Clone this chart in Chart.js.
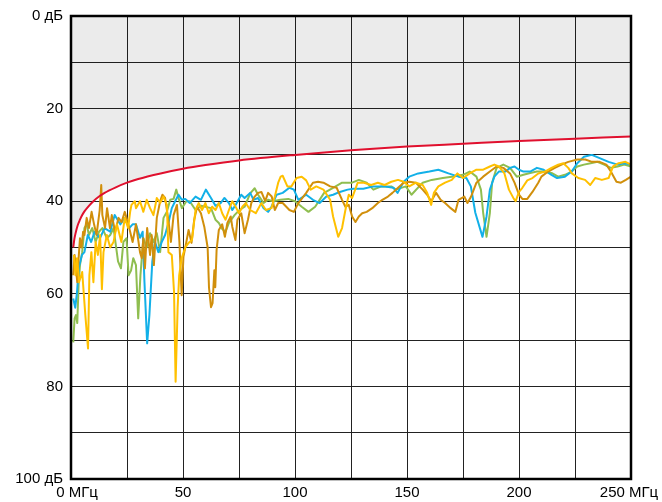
<!DOCTYPE html>
<html><head><meta charset="utf-8">
<script src="https://cdn.jsdelivr.net/npm/chart.js@4.4.1/dist/chart.umd.min.js"></script>
<style>html,body{margin:0;padding:0;background:#fff}#wrap{width:662px;height:502px}</style>
</head><body><div id="wrap"><canvas id="c" width="662" height="502"></canvas></div>
<script>
// Axis ticks
const xTicks = [0, 50, 100, 150, 200, 250];
const xTickLabels = ['0 МГц', '50', '100', '150', '200', '250 МГц'];
const yTicks = [0, 20, 40, 60, 80, 100];
const yTickLabels = ['0 дБ', '20', '40', '60', '80', '100 дБ'];

// Limit line [MHz, dB]
const limitLine = [[1,50],[1.5,48.2],[2,47],[3,45.2],[4,44],[5,43],[6,42.2],[8,41],[10,40],[12.5,39],[15,38.2],[20,37],[25,36],[30,35.2],[40,34],[50,33],[60,32.2],[75,31.2],[100,30],[125,29],[150,28.2],[175,27.6],[200,27],[225,26.5],[250,26]];
const limitFillStart = [[0,50]];

// Measured series [MHz, dB]
const cyanSeries = [[1,61],[1.9,63],[2.7,59.6],[3.4,54.5],[4.9,51.6],[6,51],[7.5,47.3],[9,48.8],[10.5,46.6],[12.9,48],[15,45.8],[17.5,46.6],[19.5,43],[22,45],[24,43.6],[26,45.8],[27.5,45],[29,45],[30.8,47.9],[32,46.6],[32.8,57.5],[34,70.7],[35,64.6],[36.3,53],[37.5,48.8],[39,51],[40.5,48.8],[42,47.3],[43.6,44.5],[45,41.5],[46.5,40],[48,38.6],[49.5,39.7],[51,39.5],[53,40.4],[55.6,39],[58,39.7],[60.2,37.5],[62.5,39.3],[64.5,41],[66.8,40.4],[68.5,39.3],[70.5,40.4],[72,41.9],[73.5,40.8],[76,38.6],[77.5,39.3],[80,38.2],[81.5,39.7],[83.5,39.3],[86,41.5],[88,42.3],[89.5,41.2],[91.8,38.6],[94.5,38.2],[97.5,37.1],[99.5,37.5],[101.5,39.7],[105,38.6],[108,39.7],[111,40.4],[114,39],[117,38.6],[120,38],[123.5,37.5],[126,37.3],[130.5,37.3],[135,36.8],[139.5,36.8],[144,37.1],[145.8,38.2],[148.5,35.8],[151,34.7],[155,34],[160,33.6],[164,33.2],[168.5,34],[173,34.7],[176.5,35],[178.5,36.8],[180.5,42.5],[183.7,47.7],[185.5,43.3],[187,37.5],[189,34.7],[191,33.6],[194,33.6],[196,32.8],[198,32.5],[200,33.2],[202,33.6],[205,33.6],[208,32.8],[211,33.2],[214.5,34.3],[217,35],[220.5,34.7],[223.5,33.6],[226,31.8],[229,30.4],[232.5,30],[236,30.7],[240,31.5],[244,32.1],[247,31.8],[250,32.1]];

const greenSeries = [[1,70.5],[1.6,65.3],[2.2,64.6],[2.8,66.3],[3.4,58],[4,53.8],[5,51],[6,45.8],[7,45],[8,47.3],[9.5,45.8],[11,48.8],[12.5,46.6],[14,45.8],[16,48],[17.5,47.3],[19,45.8],[21,53],[22.3,54.5],[23.4,48.8],[24.8,48],[25.7,56],[26.8,55],[27.8,52.3],[29,53.8],[30,65.3],[31,56],[32.3,48],[33.8,50],[35.3,46.9],[36.8,48.8],[38.3,46.9],[39.8,51],[41.3,43.6],[42.8,42.3],[44.3,39.7],[45.8,39.5],[47,37.5],[48,39.3],[49.5,41.5],[51.5,40],[53,40],[55.6,41.9],[58,41],[62.5,41.5],[64.5,44],[66,44.7],[67.5,46],[69,46.6],[70.5,44.7],[73,43],[75,42],[77.5,41.2],[80,38.3],[82,37.2],[83.5,38.6],[86,40.4],[88,39.7],[90,40],[93.5,39.7],[97,39.5],[100,40],[103,41.2],[106,42.3],[109,41.2],[113,38.2],[117,37.1],[121,36],[125.5,36],[128.5,35.4],[132,36],[135,37.5],[138.5,36.8],[143,36.8],[145,37.5],[149.5,36.8],[152,38.6],[157,36],[161,35.4],[166,35],[170,34.7],[175,34.3],[178,33.6],[181,34.7],[183,37.5],[184,42.5],[185.5,47.7],[187,42.5],[188,36],[190,32.8],[193,32.1],[196,32.8],[199,34.7],[202,34.3],[205,33.9],[208,33.6],[211,33.6],[214.5,33.9],[217.5,34.7],[220.5,34.3],[223.5,33.6],[226,32.5],[229,32.1],[232,31.8],[235,31.5],[238,32.1],[241,32.8],[244,32.5],[247,32.1],[250,32.5]];

const yellowSeries = [[1.3,51.6],[2,56],[2.7,52.3],[3.6,57.5],[5,55.3],[6.4,64.6],[7.6,71.8],[8.2,56],[9.1,51],[10,57.5],[11,48.8],[12,51.6],[13,47.3],[13.8,59],[14.5,51],[16,47.3],[17.5,50],[19,48.8],[20.5,45],[22.5,48.8],[24,43.6],[25.5,45.8],[26.4,42.3],[27,40.8],[28.5,40],[29,41.5],[30.8,40],[32.3,42.3],[33.8,39.7],[35.3,41.5],[36.8,43],[38.3,39.3],[39.8,40.4],[41.3,39],[42.8,40.8],[43.5,51],[45,51.6],[46,59.6],[46.7,79],[47.6,63],[48.3,56],[49.4,52.3],[51,50],[52.5,49],[54,48.4],[55.6,41.9],[57,40.4],[58.5,41.9],[60,40.4],[61.5,42.6],[63,41.2],[64.5,41.9],[66,40.4],[67.5,42.6],[69,44],[70.5,41.9],[72,40],[73.5,41.2],[75,42.6],[76.5,41.2],[78,40.4],[80,41.9],[82.5,42.6],[85,40.4],[87,41.9],[89.5,41.5],[91,39],[92.5,36],[93.6,34.7],[94.5,34.5],[96.6,36.8],[98.4,36.8],[100.7,35],[103,34.7],[105,35.5],[107,37.5],[109.5,36.8],[112.7,37.5],[115.7,39.7],[117,43.3],[119.3,47.7],[121,45.8],[122.5,41.9],[124,38.6],[125.5,39.3],[128,36],[130.8,36],[134,36.5],[137,36],[140,36.5],[143,35.8],[146,35.4],[148.5,35.8],[151,36.8],[154,36],[157,36.5],[159,38.2],[160.8,40.8],[162,38.2],[164,36.8],[167,36],[170,35.4],[172.5,34],[175,35],[178,34],[181,33.2],[184,33.2],[187,32.5],[189,32.1],[191,32.5],[193.5,34],[195.5,37.5],[197.7,39.5],[198.5,40],[200,38],[201.5,37.1],[203.7,35.5],[206,35],[208.6,34],[211.6,33.6],[214.5,32.8],[217.5,32.1],[219.8,31.8],[222,32.8],[223.6,34],[226.5,35],[229.5,35.4],[231.8,36.5],[234,35],[237,35.4],[240,35],[242,32.5],[244.5,31.8],[247.5,31.5],[250,32.1]];

const brownSeries = [[1,56],[1.6,51.6],[2.2,54.5],[2.8,57.5],[3.4,52.3],[4,48],[4.7,50],[5.4,46.6],[6,47.3],[7,43.6],[8,45.8],[9.2,42.3],[10.3,45],[11.4,47.3],[12.8,42],[13.5,36.5],[14,43],[15.2,45.8],[16.1,41.5],[17.4,45.8],[18.2,43],[19.7,46.6],[21.2,43.6],[22.6,44.5],[24,42.3],[25.6,45],[26,45.8],[27.5,48.8],[29,45],[30.8,51],[31.6,52.3],[32.3,48],[33,54.5],[34,45.8],[35.3,51.6],[36,47.3],[37,53.8],[38.3,43.6],[39.8,40],[40.8,38.6],[42,39.3],[43.6,44.5],[44.6,48.8],[45.8,43],[47.3,40.8],[48.4,48.8],[49.4,60.3],[50.2,52],[51.5,48.8],[52.5,46.2],[53.8,49],[55,44],[56.3,41.2],[58,42.6],[59.5,45.5],[61,50],[61.6,58.6],[62.5,62.9],[63.2,62],[64,54.9],[64.4,58.6],[65,50.5],[66,46.2],[67.5,45],[68.7,47.7],[69.8,44.7],[71.3,43.3],[72,45.5],[73.4,48.4],[74.3,44],[76,42.6],[77.5,46.9],[79,44],[80.5,40.4],[82,39],[83.5,38.2],[85,38],[86.7,40],[88,38.2],[89.6,39],[91,41.9],[92.5,40.4],[94.5,40.4],[97.5,41.9],[99.5,42.3],[101.5,40.4],[105,38.2],[108,36],[110.3,35.8],[112.7,36],[115.7,36.8],[118.6,37.1],[121,39.7],[122.5,41.2],[124,40.8],[125.5,43.3],[127,44.5],[128.5,43.3],[130,42.6],[132,42.3],[134.5,41.5],[137,40.4],[139,39.7],[141.5,39],[143.5,38.2],[146,37.1],[148.5,36],[151,35.8],[154,36],[157,37.5],[159,38.6],[160.8,40],[163,38.2],[165,39.7],[167,40.4],[169.5,41.5],[171.6,42.3],[173,39.7],[175.6,39],[177,40.4],[178.6,39],[181,36],[184,34.7],[187,33.6],[190,32.5],[193,32.8],[196,34],[198,36],[200,38.6],[201.5,39.5],[203.7,39.5],[206,38],[208.6,36],[210,34.7],[213,33.6],[216,32.8],[219,32.1],[222,31.5],[226,31],[229.6,31],[232.6,31.5],[236,31.5],[239,32.1],[241,33.6],[243.5,35.8],[245.5,36],[247.7,35.4],[250,34.7]];

const toXY = arr => arr.map(p => ({x: p[0], y: p[1]}));

const frame = {
  id: 'frame',
  afterDraw(chart) {
    const {ctx, chartArea: a, scales} = chart;
    const xs = scales.x, ys = scales.y;
    ctx.save();
    ctx.strokeStyle = '#000';
    ctx.lineWidth = 2.5;
    ctx.strokeRect(a.left, a.top, a.right - a.left, a.bottom - a.top);
    ctx.fillStyle = '#000';
    ctx.font = '15px "Liberation Sans", Arial, sans-serif';
    ctx.textAlign = 'right';
    ctx.textBaseline = 'middle';
    yTicks.forEach((v, i) => ctx.fillText(yTickLabels[i], 63, ys.getPixelForValue(v)));
    ctx.textAlign = 'center';
    xTicks.forEach((v, i) => {
      let px = xs.getPixelForValue(v);
      if (i === 0) px += 6;
      if (i === xTicks.length - 1) px -= 2;
      ctx.fillText(xTickLabels[i], px, 493);
    });
    ctx.restore();
  }
};

const lineDs = (data, color, order) => ({
  data: toXY(data), borderColor: color, borderWidth: 2, pointRadius: 0,
  showLine: true, fill: false, tension: 0, order: order, borderJoinStyle: 'round'
});

new Chart(document.getElementById('c'), {
  type: 'scatter',
  data: {
    datasets: [
      { data: toXY(limitFillStart.concat(limitLine)), borderWidth: 0, borderColor: 'rgba(0,0,0,0)',
        backgroundColor: 'rgba(0,0,0,0.08)', fill: {value: 0}, pointRadius: 0, showLine: true,
        cubicInterpolationMode: 'monotone', order: 10 },
      lineDs(greenSeries, '#8fbe50', 5),
      lineDs(cyanSeries, '#12b0e8', 4),
      lineDs(brownSeries, '#d18f0b', 3),
      lineDs(yellowSeries, '#ffc000', 2),
      { data: toXY(limitLine), borderColor: '#e0102e', borderWidth: 2, pointRadius: 0, showLine: true,
        fill: false, cubicInterpolationMode: 'monotone', order: 1 }
    ]
  },
  options: {
    responsive: false, animation: false, devicePixelRatio: 1,
    layout: { padding: { left: 71, right: 31, top: 16, bottom: 23 } },
    plugins: { legend: { display: false }, tooltip: { enabled: false } },
    scales: {
      x: { type: 'linear', min: 0, max: 250,
        ticks: { display: false, stepSize: 25 },
        grid: { color: '#222', lineWidth: 1, drawTicks: false },
        border: { display: false } },
      y: { type: 'linear', min: 0, max: 100, reverse: true,
        ticks: { display: false, stepSize: 10 },
        grid: { color: '#222', lineWidth: 1, drawTicks: false },
        border: { display: false } }
    }
  },
  plugins: [frame]
});
</script></body></html>
